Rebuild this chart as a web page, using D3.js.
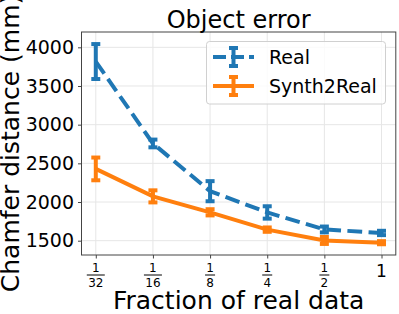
<html>
    <head>
        <title>Object error</title>
        <style>
            body { margin: 0; background: #fff; }
            text { font-family: "DejaVu Sans", sans-serif; fill: #000; }
        </style>
    </head>

    <body>
        <script src="https://cdnjs.cloudflare.com/ajax/libs/d3/7.8.5/d3.min.js"></script>
        <script>
            // values
            var fractions = [1/32, 1/16, 1/8, 1/4, 1/2, 1];
            var tickLabels = ['1/32', '1/16', '1/8', '1/4', '1/2', '1'];
            var realMean = [3816, 2757, 2140, 1865, 1645, 1600];
            var realErr = [226, 50, 130, 80, 38, 28];
            var synthMean = [2428, 2073, 1867, 1643, 1503, 1474];
            var synthErr = [147, 78, 40, 28, 45, 20];
            var yTicks = [1500, 2000, 2500, 3000, 3500, 4000];

            // plot box (window.top is read-only, so no plain "top")
            var plotL = 81.5, plotR = 395.8, plotT = 32, plotB = 255;

            var svg = d3.select('body')
                .append('svg')
                .attr('width', 399)
                .attr('height', 314);

            var x = d3.scaleLog().base(2)
                .domain([Math.pow(2, -5.25), Math.pow(2, 0.25)])
                .range([plotL, plotR]);

            var y = d3.scaleLinear()
                .domain([1315, 4198])
                .range([plotB, plotT]);

            // grid
            svg.selectAll('line.gx').data(fractions).enter()
                .append('line')
                .attr('x1', function(d) { return x(d); })
                .attr('x2', function(d) { return x(d); })
                .attr('y1', plotT).attr('y2', plotB)
                .style('stroke', '#e6e6e6').style('stroke-width', 1);

            svg.selectAll('line.gy').data(yTicks).enter()
                .append('line')
                .attr('x1', plotL).attr('x2', plotR)
                .attr('y1', function(d) { return y(d); })
                .attr('y2', function(d) { return y(d); })
                .style('stroke', '#e6e6e6').style('stroke-width', 1);

            // y axis
            var yAxis = svg.append('g')
                .attr('transform', 'translate(' + plotL + ',0)')
                .call(d3.axisLeft(y).tickValues(yTicks).tickSize(3.5).tickPadding(4).tickFormat(d3.format('d')));
            yAxis.select('.domain').remove();
            yAxis.selectAll('line').style('stroke', '#444');
            yAxis.selectAll('text')
                .style('font-size', '19px')
                .style('font-family', '"DejaVu Sans", sans-serif')
                .style('fill', '#000');

            // x axis, labels drawn as fractions below
            var xAxis = svg.append('g')
                .attr('transform', 'translate(0,' + plotB + ')')
                .call(d3.axisBottom(x).tickValues(fractions).tickSize(3.5).tickFormat(''));
            xAxis.select('.domain').remove();
            xAxis.selectAll('line').style('stroke', '#444');

            fractions.forEach(function(f, i) {
                var parts = tickLabels[i].split('/');
                var cx = x(f);
                if (parts.length == 1) {
                    svg.append('text')
                        .attr('x', cx).attr('y', 277)
                        .attr('text-anchor', 'middle')
                        .style('font-size', '17px')
                        .text(parts[0]);
                    return;
                }
                svg.append('text')
                    .attr('x', cx).attr('y', 272)
                    .attr('text-anchor', 'middle')
                    .style('font-size', '12px')
                    .text(parts[0]);
                var hw = parts[1].length * 4 + 1;
                svg.append('line')
                    .attr('x1', cx - hw).attr('x2', cx + hw)
                    .attr('y1', 275).attr('y2', 275)
                    .style('stroke', '#000').style('stroke-width', 1);
                svg.append('text')
                    .attr('x', cx).attr('y', 287)
                    .attr('text-anchor', 'middle')
                    .style('font-size', '12px')
                    .text(parts[1]);
            });

            // frame
            svg.append('rect')
                .attr('x', plotL).attr('y', plotT)
                .attr('width', plotR - plotL).attr('height', plotB - plotT)
                .style('fill', 'none').style('stroke', '#444').style('stroke-width', 1);

            var series = [
                { name: 'Real', mean: realMean, err: realErr, color: '#1f77b4', dash: '14.8,6.4' },
                { name: 'Synth2Real', mean: synthMean, err: synthErr, color: '#ff7f0e', dash: null }
            ];

            var line = d3.line()
                .x(function(d) { return x(d[0]); })
                .y(function(d) { return y(d[1]); });

            series.forEach(function(s) {
                var pts = fractions.map(function(f, i) { return [f, s.mean[i], s.err[i]]; });

                svg.append('path')
                    .attr('d', line(pts))
                    .style('fill', 'none')
                    .style('stroke', s.color)
                    .style('stroke-width', 4)
                    .style('stroke-dasharray', s.dash);

                var g = svg.append('g').style('stroke', s.color).style('stroke-width', 4);
                g.selectAll('line.v').data(pts).enter()
                    .append('line')
                    .attr('x1', function(d) { return x(d[0]); })
                    .attr('x2', function(d) { return x(d[0]); })
                    .attr('y1', function(d) { return y(d[1] - d[2]); })
                    .attr('y2', function(d) { return y(d[1] + d[2]); });
                [-1, 1].forEach(function(sign) {
                    g.selectAll('line.c' + sign).data(pts).enter()
                        .append('line')
                        .attr('x1', function(d) { return x(d[0]) - 4.5; })
                        .attr('x2', function(d) { return x(d[0]) + 4.5; })
                        .attr('y1', function(d) { return y(d[1] + sign * d[2]); })
                        .attr('y2', function(d) { return y(d[1] + sign * d[2]); });
                });
            });

            // legend
            var lg = svg.append('g');
            lg.append('rect')
                .attr('x', 206.5).attr('y', 41.5)
                .attr('width', 179).attr('height', 62.5)
                .attr('rx', 3)
                .style('fill', 'rgba(255,255,255,0.8)')
                .style('stroke', '#d0d0d0').style('stroke-width', 1);

            series.forEach(function(s, i) {
                var ly = 57 + i * 29;
                lg.append('line')
                    .attr('x1', 213).attr('x2', 254)
                    .attr('y1', ly).attr('y2', ly)
                    .style('stroke', s.color).style('stroke-width', 4)
                    .style('stroke-dasharray', s.dash ? '13,5' : null);
                lg.append('line')
                    .attr('x1', 233.5).attr('x2', 233.5)
                    .attr('y1', ly - 9).attr('y2', ly + 9)
                    .style('stroke', s.color).style('stroke-width', 4);
                [-9, 9].forEach(function(o) {
                    lg.append('line')
                        .attr('x1', 229).attr('x2', 238)
                        .attr('y1', ly + o).attr('y2', ly + o)
                        .style('stroke', s.color).style('stroke-width', 4);
                });
                lg.append('text')
                    .attr('x', 269).attr('y', ly + 7)
                    .style('font-size', '19px')
                    .text(s.name);
            });

            // titles
            svg.append('text')
                .attr('x', (plotL + plotR) / 2).attr('y', 28)
                .attr('text-anchor', 'middle')
                .style('font-size', '24px')
                .text('Object error');

            svg.append('text')
                .attr('x', (plotL + plotR) / 2).attr('y', 309)
                .attr('text-anchor', 'middle')
                .style('font-size', '25px')
                .text('Fraction of real data');

            svg.append('text')
                .attr('transform', 'translate(19,' + (plotT + plotB) / 2 + ') rotate(-90)')
                .attr('text-anchor', 'middle')
                .style('font-size', '25px')
                .text('Chamfer distance (mm)');
        </script>
    </body>
</html>
